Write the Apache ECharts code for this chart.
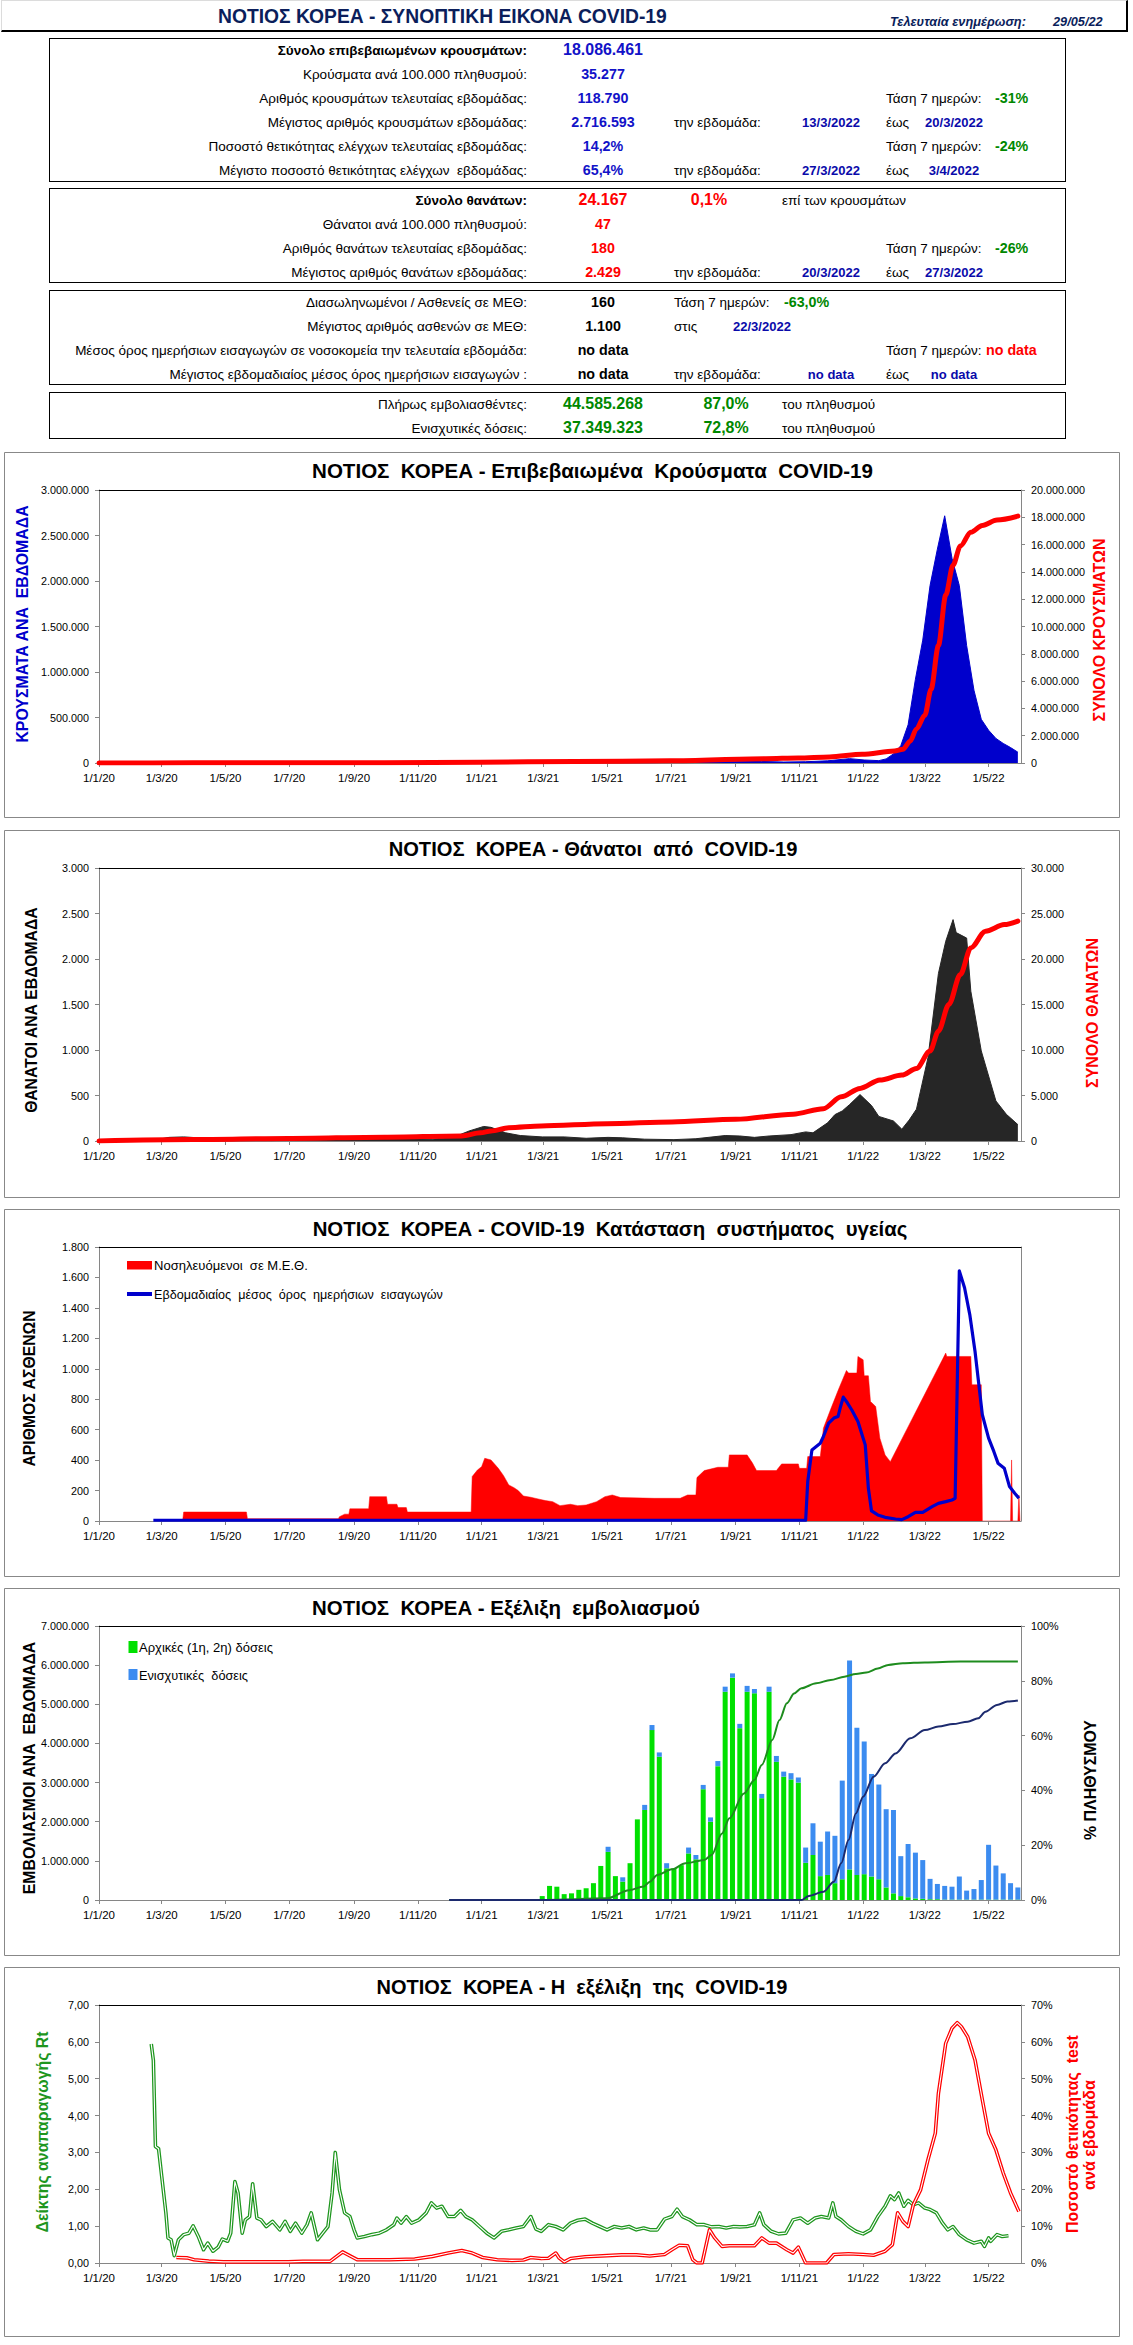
<!DOCTYPE html>
<html><head><meta charset="utf-8">
<script src="https://cdn.jsdelivr.net/npm/echarts@6/dist/echarts.min.js"></script>
<style>
html,body{margin:0;padding:0;background:#fff;}
#page{position:relative;width:1133px;height:2345px;overflow:hidden;background:#fff;}
#chart{position:absolute;left:0;top:0;width:1133px;height:2345px;}
.t{position:absolute;white-space:pre;line-height:1;}
.box{position:absolute;box-sizing:border-box;}
</style></head><body><div id="page"><div id="chart"></div></div>
<script>
// ---------------- DATA ----------------
const xTickLabels = ['1/1/20','1/3/20','1/5/20','1/7/20','1/9/20','1/11/20','1/1/21','1/3/21','1/5/21','1/7/21','1/9/21','1/11/21','1/1/22','1/3/22','1/5/22'];

const hdrTitle = 'ΝΟΤΙΟΣ ΚΟΡΕΑ - ΣΥΝΟΠΤΙΚΗ ΕΙΚΟΝΑ COVID-19';
const hdrUpdateLabel = 'Τελευταία ενημέρωση:';
const hdrUpdateDate = '29/05/22';
const summaryLabels = [
 'Σύνολο επιβεβαιωμένων κρουσμάτων:','Κρούσματα ανά 100.000 πληθυσμού:','Αριθμός κρουσμάτων τελευταίας εβδομάδας:',
 'Μέγιστος αριθμός κρουσμάτων εβδομάδας:','Ποσοστό θετικότητας ελέγχων τελευταίας εβδομάδας:','Μέγιστο ποσοστό θετικότητας ελέγχων  εβδομάδας:',
 'Σύνολο θανάτων:','Θάνατοι ανά 100.000 πληθυσμού:','Αριθμός θανάτων τελευταίας εβδομάδας:','Μέγιστος αριθμός θανάτων εβδομάδας:',
 'Διασωληνωμένοι / Ασθενείς σε ΜΕΘ:','Μέγιστος αριθμός ασθενών σε ΜΕΘ:','Μέσος όρος ημερήσιων εισαγωγών σε νοσοκομεία την τελευταία εβδομάδα:',
 'Μέγιστος εβδομαδιαίος μέσος όρος ημερήσιων εισαγωγών :','Πλήρως εμβολιασθέντες:','Ενισχυτικές δόσεις:'];
const summaryValues = ['18.086.461','35.277','118.790','2.716.593','14,2%','65,4%','24.167','47','180','2.429','160','1.100','no data','no data','44.585.268','37.349.323'];
const trendLabel = 'Τάση 7 ημερών:';
const weekLabel = 'την εβδομάδα:';
const untilLabel = 'έως';
const casesTrend = '-31%', positivityTrend = '-24%', deathsTrend = '-26%', icuTrend = '-63,0%', admissionsTrend = 'no data';
const maxCasesWeek = ['13/3/2022','20/3/2022'];
const maxPositivityWeek = ['27/3/2022','3/4/2022'];
const maxDeathsWeek = ['20/3/2022','27/3/2022'];
const maxIcuDay = ['στις','22/3/2022'];
const maxAdmissionsWeek = ['no data','no data'];
const deathRatio = ['0,1%','επί των κρουσμάτων'];
const vaccinePct = ['87,0%','72,8%'];
const popLabel = 'του πληθυσμού';

const chartTitles = ['ΝΟΤΙΟΣ  ΚΟΡΕΑ - Επιβεβαιωμένα  Κρούσματα  COVID-19','ΝΟΤΙΟΣ  ΚΟΡΕΑ - Θάνατοι  από  COVID-19',
 'ΝΟΤΙΟΣ  ΚΟΡΕΑ - COVID-19  Κατάσταση  συστήματος  υγείας','ΝΟΤΙΟΣ  ΚΟΡΕΑ - Εξέλιξη  εμβολιασμού','ΝΟΤΙΟΣ  ΚΟΡΕΑ - Η  εξέλιξη  της  COVID-19'];

// Chart 1: cases
const casesWeeklyTicks = [0,500000,1000000,1500000,2000000,2500000,3000000];
const casesTotalTicks = [0,2000000,4000000,6000000,8000000,10000000,12000000,14000000,16000000,18000000,20000000];
const casesWeeklyDates = ['2020-01-05','2020-02-16','2020-02-23','2020-03-01','2020-03-08','2020-03-15','2020-03-22','2020-04-05','2020-04-19','2020-05-17','2020-06-14','2020-07-12','2020-08-16','2020-08-30','2020-09-20','2020-10-18','2020-11-15','2020-12-06','2020-12-27',
 '2021-01-17','2021-02-14','2021-03-14','2021-04-18','2021-05-16','2021-06-13','2021-07-18','2021-08-15','2021-09-26','2021-10-17','2021-11-07','2021-11-28','2021-12-19',
 '2022-01-02','2022-01-16','2022-01-23','2022-01-30','2022-02-06','2022-02-13','2022-02-20','2022-02-27','2022-03-06','2022-03-13','2022-03-20','2022-03-27','2022-04-03','2022-04-10','2022-04-17','2022-04-24','2022-05-01','2022-05-08','2022-05-15','2022-05-22','2022-05-29'];
const casesWeeklyValues = [0,20,550,3700,3300,900,700,500,100,150,300,300,700,2200,800,600,1300,4000,7200,
 3500,2800,3000,4600,4500,3700,10800,12600,17000,10500,14000,24000,48000,
 33000,26000,45000,100000,190000,420000,920000,1350000,1950000,2350000,2716593,2250000,1950000,1290000,800000,480000,360000,270000,215000,170000,118790];
const casesTotalDates = ['2020-01-01','2020-03-31','2020-06-30','2020-09-30','2020-12-31','2021-03-31','2021-06-30','2021-09-30','2021-10-31','2021-11-30','2021-12-31','2022-01-31','2022-02-08','2022-02-15','2022-02-21','2022-03-01','2022-03-07','2022-03-14','2022-03-21','2022-03-28','2022-04-04','2022-04-14','2022-04-25','2022-05-09','2022-05-29'];
const casesTotalValues = [0,9800,12900,23800,61000,104000,157000,313000,365000,448000,636000,880000,1000000,1600000,2500000,3500000,5400000,8600000,12300000,14500000,15900000,16900000,17400000,17800000,18086461];

// Chart 2: deaths
const deathsWeeklyTicks = [0,500,1000,1500,2000,2500,3000];
const deathsTotalTicks = [0,5000,10000,15000,20000,25000,30000];
const deathsWeeklyDates = ['2020-01-05','2020-02-23','2020-03-08','2020-03-22','2020-04-12','2020-05-10','2020-06-14','2020-07-19','2020-08-30','2020-09-20','2020-10-18','2020-11-15','2020-12-06','2020-12-20',
 '2021-01-03','2021-01-10','2021-01-24','2021-02-07','2021-02-28','2021-03-21','2021-04-11','2021-05-02','2021-05-16','2021-06-06','2021-07-04','2021-07-25','2021-08-22','2021-09-05','2021-09-19','2021-10-03','2021-10-24','2021-11-07','2021-11-14','2021-11-28','2021-12-05','2021-12-12','2021-12-19','2021-12-29',
 '2022-01-09','2022-01-16','2022-01-30','2022-02-07','2022-02-14','2022-02-21','2022-03-04','2022-03-14','2022-03-21','2022-03-28','2022-03-31','2022-04-10','2022-04-14','2022-04-24','2022-05-08','2022-05-18','2022-05-29'];
const deathsWeeklyValues = [0,10,40,45,30,10,5,8,15,40,25,20,45,110,
 160,150,90,60,45,45,30,40,35,20,15,25,60,55,40,55,70,100,90,200,290,330,400,510,
 390,270,220,130,230,350,915,1840,2195,2433,2290,2230,1646,990,440,293,180];
const deathsTotalDates = ['2020-01-01','2020-03-31','2020-06-30','2020-09-30','2020-12-13','2020-12-31','2021-01-10','2021-01-27','2021-02-27','2021-05-01','2021-07-02','2021-09-01','2021-10-26','2021-11-24','2021-12-11','2021-12-29','2022-01-17','2022-02-07','2022-02-21','2022-03-06','2022-03-14','2022-03-24','2022-04-04','2022-04-14','2022-04-28','2022-05-16','2022-05-29'];
const deathsTotalValues = [0,160,280,420,560,900,1100,1460,1650,1900,2100,2380,2950,3550,4850,5780,6700,7240,7970,9880,12070,15000,18300,21220,23050,23780,24167];

// Chart 3: health system
const icuTicks = [0,200,400,600,800,1000,1200,1400,1600,1800];
const icuName = 'Νοσηλευόμενοι  σε Μ.Ε.Θ.';
const admName = 'Εβδομαδιαίος  μέσος  όρος  ημερήσιων  εισαγωγών';
const icuDates = ['2020-03-21','2020-03-22','2020-05-21','2020-05-22','2020-08-17','2020-08-18','2020-08-23','2020-08-27','2020-08-28','2020-09-15','2020-09-16','2020-10-02','2020-10-03','2020-10-12','2020-10-13','2020-10-21','2020-10-22','2020-12-22','2020-12-23','2020-12-28',
 '2021-01-01','2021-01-04','2021-01-10','2021-01-17','2021-01-22','2021-01-27','2021-02-01','2021-02-05','2021-02-10','2021-02-17','2021-02-24','2021-03-03','2021-03-10','2021-03-17','2021-03-27','2021-04-03','2021-04-11','2021-04-21','2021-04-29','2021-05-06','2021-05-14','2021-06-15','2021-07-10','2021-07-17','2021-07-25','2021-07-26','2021-08-02','2021-08-15','2021-08-25','2021-08-26','2021-09-12','2021-09-17','2021-09-21','2021-10-10','2021-10-15','2021-10-31','2021-11-01','2021-11-08','2021-11-09','2021-11-21','2021-11-24','2021-12-01','2021-12-08','2021-12-16','2021-12-18','2021-12-26','2021-12-27',
 '2022-01-01','2022-01-02','2022-01-06','2022-01-08','2022-01-13','2022-01-17','2022-01-22','2022-01-27','2022-03-21','2022-03-22','2022-04-14','2022-04-15','2022-04-24','2022-04-25','2022-05-22','2022-05-23','2022-05-24','2022-05-29','2022-05-30','2022-05-31'];
const icuValues = [0,59,59,15,15,28,45,45,80,80,160,160,110,110,88,88,59,59,292,335,
 357,412,401,346,298,237,219,200,164,156,145,134,127,101,110,101,105,127,160,171,154,149,149,171,171,285,331,353,353,434,434,382,331,331,375,375,346,346,423,423,610,735,857,989,972,972,1081,
 1059,954,954,785,752,544,434,390,1103,1081,1081,895,895,0,0,401,0,0,171,0];
const admDates = ['2020-02-22','2021-11-07','2021-11-09','2021-11-13','2021-11-21','2021-11-24','2021-11-29','2021-12-04','2021-12-08','2021-12-10','2021-12-13','2021-12-17','2021-12-21','2021-12-27',
 '2022-01-01','2022-01-03','2022-01-06','2022-01-09','2022-01-15','2022-01-22','2022-02-01','2022-02-07','2022-02-13','2022-02-20','2022-02-27','2022-03-08','2022-03-14','2022-03-21','2022-03-27','2022-03-30','2022-04-03','2022-04-08','2022-04-13','2022-04-18','2022-04-25','2022-05-01','2022-05-06','2022-05-10','2022-05-16','2022-05-21','2022-05-26','2022-05-30'];
const admValues = [5,5,259,467,511,555,643,676,687,742,814,775,731,654,
 544,500,215,66,40,24,13,9,28,57,57,94,116,127,138,149,1643,1532,1356,1115,698,544,457,380,347,226,182,149];

// Chart 4: vaccination
const vacTicks = [0,1000000,2000000,3000000,4000000,5000000,6000000,7000000];
const pctTicks = [0,20,40,60,80,100];
const vacInitName = 'Αρχικές (1η, 2η) δόσεις';
const vacBoostName = 'Ενισχυτικές  δόσεις';
const vacWeeks = ['2021-02-28','2021-03-07','2021-03-14','2021-03-21','2021-03-28','2021-04-04','2021-04-11','2021-04-18','2021-04-25','2021-05-02','2021-05-09','2021-05-16','2021-05-23','2021-05-30','2021-06-06','2021-06-13','2021-06-20','2021-06-27','2021-07-04','2021-07-11','2021-07-18','2021-07-25','2021-08-01','2021-08-08','2021-08-15','2021-08-22','2021-08-29','2021-09-05','2021-09-12','2021-09-19','2021-09-26','2021-10-03','2021-10-10','2021-10-17','2021-10-24','2021-10-31','2021-11-07','2021-11-14','2021-11-21','2021-11-28','2021-12-05','2021-12-12','2021-12-19','2021-12-26',
 '2022-01-02','2022-01-09','2022-01-16','2022-01-23','2022-01-30','2022-02-06','2022-02-13','2022-02-20','2022-02-27','2022-03-06','2022-03-13','2022-03-20','2022-03-27','2022-04-03','2022-04-10','2022-04-17','2022-04-24','2022-05-01','2022-05-08','2022-05-15','2022-05-22','2022-05-29'];
const vacInitWeekly = [100000,360000,340000,150000,170000,260000,300000,430000,870000,1230000,610000,470000,940000,2060000,2300000,4340000,3660000,810000,810000,890000,1190000,1040000,2830000,2000000,3420000,5320000,5680000,4390000,5320000,5280000,2600000,5320000,3530000,3150000,3080000,3000000,950000,1150000,610000,640000,430000,530000,780000,640000,
 660000,600000,530000,320000,170000,100000,70000,40000,30000,20000,20000,10000,10000,10000,10000,10000,10000,10000,10000,10000,10000,10000];
const vacBoostWeekly = [0,0,0,0,0,0,0,0,0,130000,0,110000,0,0,130000,130000,110000,130000,0,0,150000,110000,110000,110000,130000,130000,110000,110000,150000,110000,110000,130000,150000,130000,160000,130000,390000,810000,880000,1110000,1210000,2520000,5340000,3760000,
 3390000,2620000,2420000,2000000,2130000,1020000,1360000,1170000,990000,520000,390000,350000,330000,590000,230000,270000,500000,1400000,870000,670000,420000,310000];
const vacInitPctDates = ['2020-12-01','2021-03-01','2021-05-01','2021-05-22','2021-06-05','2021-06-11','2021-06-18','2021-07-02','2021-07-15','2021-08-02','2021-08-09','2021-08-19','2021-08-26','2021-09-09','2021-09-19','2021-09-26','2021-10-06','2021-10-13','2021-10-20','2021-10-27','2021-11-03','2021-11-17','2021-12-01','2021-12-14','2021-12-25','2022-01-04','2022-01-15','2022-01-25','2022-02-08','2022-03-01','2022-04-04','2022-05-29'];
const vacInitPctValues = [0,0,0.6,3.6,4.9,6.7,9.1,11.2,13.4,14.6,16.4,24.3,29.8,38.9,43.8,49.3,58.4,65.7,71.8,75.4,77.3,79.1,80.3,81.5,82.5,83.0,84.5,85.8,86.4,86.7,87.0,87.0];
const vacBoostPctDates = ['2020-12-01','2021-11-03','2021-11-10','2021-11-24','2021-12-04','2021-12-11','2021-12-18','2021-12-25','2022-01-01','2022-01-11','2022-01-22','2022-02-01','2022-02-15','2022-03-01','2022-03-14','2022-03-28','2022-04-11','2022-04-21','2022-04-28','2022-05-09','2022-05-19','2022-05-29'];
const vacBoostPctValues = [0,0,1.5,3,6.7,13.4,21.9,31.6,37.7,45,49.9,53.5,59,62,63.3,64.2,65.1,66.3,68.7,71.2,72.4,72.8];

// Chart 5: Rt & positivity
const rtTicks = [0,1,2,3,4,5,6,7];
const posTicks = [0,10,20,30,40,50,60,70];
const rtDates = ['2020-02-20','2020-02-22','2020-02-24','2020-02-27','2020-03-01','2020-03-05','2020-03-07','2020-03-10','2020-03-13','2020-03-17',
 '2020-03-22','2020-03-27','2020-03-31','2020-04-05','2020-04-10','2020-04-14','2020-04-19','2020-04-24','2020-04-28','2020-05-03',
 '2020-05-06','2020-05-10','2020-05-13','2020-05-17','2020-05-20','2020-05-24','2020-05-27','2020-05-31','2020-06-04','2020-06-09',
 '2020-06-15','2020-06-22','2020-06-27','2020-07-02','2020-07-07','2020-07-13','2020-07-18','2020-07-22','2020-07-28','2020-08-02',
 '2020-08-07','2020-08-11','2020-08-14','2020-08-18','2020-08-23','2020-08-28','2020-09-01','2020-09-04','2020-09-11','2020-09-18',
 '2020-09-25','2020-10-02','2020-10-09','2020-10-12','2020-10-16','2020-10-21','2020-10-26','2020-11-02','2020-11-09','2020-11-14',
 '2020-11-19','2020-11-24','2020-11-30','2020-12-06','2020-12-12','2020-12-17','2020-12-23','2020-12-30','2021-01-06','2021-01-13',
 '2021-01-20','2021-01-27','2021-02-03','2021-02-10','2021-02-17','2021-02-22','2021-02-27','2021-03-06','2021-03-13','2021-03-20',
 '2021-03-27','2021-04-03','2021-04-10','2021-04-17','2021-04-24','2021-05-01','2021-05-08','2021-05-15','2021-05-22','2021-05-29',
 '2021-06-05','2021-06-11','2021-06-18','2021-06-25','2021-07-02','2021-07-07','2021-07-12','2021-07-19','2021-07-26','2021-08-02',
 '2021-08-09','2021-08-16','2021-08-23','2021-08-30','2021-09-05','2021-09-12','2021-09-19','2021-09-24','2021-09-28','2021-10-05',
 '2021-10-12','2021-10-19','2021-10-26','2021-11-02','2021-11-09','2021-11-16','2021-11-22','2021-11-29','2021-12-03','2021-12-06',
 '2021-12-11','2021-12-18','2021-12-25','2022-01-01','2022-01-08','2022-01-15','2022-01-22','2022-01-27','2022-01-31','2022-02-04',
 '2022-02-09','2022-02-13','2022-02-18','2022-02-23','2022-03-01','2022-03-06','2022-03-12','2022-03-18','2022-03-23','2022-03-28',
 '2022-04-03','2022-04-10','2022-04-17','2022-04-24','2022-04-27','2022-05-01','2022-05-03','2022-05-09','2022-05-14','2022-05-20'];
const rtValues = [5.94,5.5,3.16,3.1,2.35,1.36,0.68,0.63,0.2,0.63,
 0.77,0.81,1.01,0.72,0.36,0.54,0.32,0.43,0.65,0.59,
 0.81,2.21,1.9,0.81,1.17,1.26,2.15,1.22,1.17,0.99,
 1.13,0.9,1.13,0.86,1.08,0.81,1.04,1.36,0.63,0.81,
 0.99,1.9,3.0,1.99,1.36,1.26,0.9,0.68,0.72,0.77,
 0.81,0.9,1.04,1.22,1.08,1.26,1.08,1.17,1.36,1.63,
 1.49,1.54,1.26,1.26,1.43,1.26,1.17,0.99,0.81,0.68,
 0.86,0.9,0.95,0.99,1.26,0.92,0.86,1.04,0.99,0.9,
 1.08,1.16,1.19,1.08,0.99,0.9,0.99,0.95,0.99,0.9,
 0.95,0.9,0.9,1.19,1.26,1.46,1.26,1.17,1.04,1.04,
 0.98,0.99,0.95,0.99,0.98,0.99,1.04,1.36,1.04,0.86,
 0.79,0.81,1.17,1.22,1.08,1.22,1.26,1.22,1.63,1.26,
 1.17,0.99,0.86,0.79,0.9,1.26,1.54,1.82,1.72,1.9,
 1.54,1.7,1.58,1.63,1.49,1.45,1.36,1.08,0.9,0.99,
 0.77,0.63,0.54,0.59,0.45,0.68,0.59,0.77,0.72,0.74];
const posDates = ['2020-03-15','2020-03-25','2020-04-01','2020-04-15','2020-04-29','2020-06-30','2020-07-14','2020-08-09','2020-08-21','2020-09-04','2020-10-05','2020-10-29','2020-11-15','2020-11-30','2020-12-13','2020-12-23',
 '2021-01-02','2021-01-16','2021-01-30','2021-02-10','2021-02-17','2021-02-27','2021-03-06','2021-03-13','2021-03-16','2021-03-21','2021-03-27','2021-04-10','2021-05-01','2021-05-15','2021-05-29','2021-06-11','2021-06-25','2021-07-02','2021-07-09','2021-07-17','2021-07-22','2021-07-26','2021-07-31','2021-08-07','2021-08-12','2021-08-19','2021-08-26','2021-09-19','2021-09-26','2021-10-03','2021-10-10','2021-10-20','2021-10-26','2021-10-31','2021-11-07','2021-11-27','2021-12-04','2021-12-18',
 '2022-01-01','2022-01-11','2022-01-22','2022-01-29','2022-02-03','2022-02-08','2022-02-13','2022-02-18','2022-02-25','2022-03-04','2022-03-11','2022-03-14','2022-03-21','2022-03-27','2022-04-01','2022-04-05','2022-04-11','2022-04-18','2022-04-25','2022-05-01','2022-05-08','2022-05-15','2022-05-22','2022-05-30'];
const posValues = [1.5,1.4,0.9,0.5,0.3,0.3,0.45,0.45,3.0,0.9,0.9,1.1,1.8,2.7,3.4,2.7,
 1.5,0.9,0.7,0.8,1.5,1.2,1.3,2.7,1.4,0.3,1.2,1.7,2.0,2.2,2.2,1.9,2.3,3.6,4.8,4.7,0.9,0,0,9.0,6.8,4.5,4.7,4.7,6.8,5.4,5.4,3.6,2.7,4.3,0,0,2.3,2.5,
 2.3,2.1,3.2,5.0,13.6,11.3,9.9,15.8,19.9,28,35.2,46,59.6,63.7,65.2,64.1,61.4,55.1,44.3,35.2,30.7,24.4,19.0,14.0];

const axisNames = {
 c1L:'ΚΡΟΥΣΜΑΤΑ ΑΝΑ  ΕΒΔΟΜΑΔΑ', c1R:'ΣΥΝΟΛΟ ΚΡΟΥΣΜΑΤΩΝ',
 c2L:'ΘΑΝΑΤΟΙ ΑΝΑ ΕΒΔΟΜΑΔΑ', c2R:'ΣΥΝΟΛΟ ΘΑΝΑΤΩΝ',
 c3L:'ΑΡΙΘΜΟΣ ΑΣΘΕΝΩΝ',
 c4L:'ΕΜΒΟΛΙΑΣΜΟΙ ΑΝΑ  ΕΒΔΟΜΑΔΑ', c4R:'% ΠΛΗΘΥΣΜΟΥ',
 c5L:'Δείκτης αναπαραγωγής Rt', c5R1:'Ποσοστό θετικότητας  test', c5R2:'ανά εβδομάδα'
};

// ---------------- HELPERS ----------------
function hasFont(name){const c=document.createElement('canvas').getContext('2d');const s='abcdefghijMNOPQ0123456';c.font='40px monospace';const a=c.measureText(s).width;c.font="40px '"+name+"', monospace";const b=c.measureText(s).width;return Math.abs(a-b)>0.5;}
const NARROW_OK = hasFont('Liberation Sans Narrow');
const FONT_REG = "'Liberation Sans', Arial, Helvetica, sans-serif";
const FONT_N = NARROW_OK ? "'Liberation Sans Narrow', 'Arial Narrow', sans-serif" : FONT_REG;
const NS = NARROW_OK ? 1 : 0.84;
const X_FS = NARROW_OK ? 13 : 11.5, Y_FS = NARROW_OK ? 12 : 10.8;
const mctx = document.createElement('canvas').getContext('2d');
function fit(text, weight, fam, target){mctx.font=weight+' 100px '+fam;const w=mctx.measureText(text).width;return +(100*target/w).toFixed(2);}
function ts(s){const p=s.split('-');return new Date(+p[0],+p[1]-1,+p[2]).getTime();}
function tickTs(s){const p=s.split('/');return new Date(2000+(+p[2]),+p[1]-1,+p[0]).getTime();}
function zip(d,v){return d.map((s,i)=>[ts(s),v[i]]);}
function thou(v){return String(Math.round(v)).replace(/\B(?=(\d{3})+(?!\d))/g,'.');}
function fmtDate(v){const d=new Date(v);return d.getDate()+'/'+(d.getMonth()+1)+'/'+String(d.getFullYear()).slice(2);}
const T0 = new Date(2020,0,1).getTime(), T1 = new Date(2022,5,1).getTime();
const DAY = 86400000;
const xTickVals = xTickLabels.map(tickTs);
// daily category list spanning the same range (used only so the library can stack the weekly bars)
const NDAYS = Math.round((T1-T0)/DAY);
const dayCats = []; for(let i=0;i<=NDAYS;i++) dayCats.push(String(i));
function onDays(dates, vals){const arr=new Array(NDAYS+1).fill('-');dates.forEach((s,i)=>{arr[Math.round((ts(s)-T0)/DAY)]=vals[i];});return arr;}

// ---------------- HEADER (HTML) ----------------
const page = document.getElementById('page');
function put(text,x,y,align,o){const d=document.createElement('div');d.className='t';d.textContent=text;d.style.left=x+'px';d.style.top=y+'px';
 const tx=align==='right'?'-100%':(align==='center'?'-50%':'0');d.style.transform='translate('+tx+',-50%)';
 d.style.font=(o.it?'italic ':'')+(o.b?'bold ':'')+o.s+'px '+(o.f||FONT_REG);d.style.color=o.c||'#000';d.style.zIndex=5;page.appendChild(d);}
function box(x,y,w,h,css){const d=document.createElement('div');d.className='box';d.style.left=x+'px';d.style.top=y+'px';d.style.width=w+'px';d.style.height=h+'px';d.style.cssText+=css;d.style.zIndex=4;page.appendChild(d);}
box(1,0,1127,32,'border-top:1px solid #dcdcdc;border-left:1px solid #dcdcdc;border-right:2px solid #000;border-bottom:2px solid #000;');
put(hdrTitle,218,17,'left',{b:true,s:fit(hdrTitle,'bold',FONT_N,449),f:FONT_N,c:'#0B1E5B'});
put(hdrUpdateLabel,890,21,'left',{b:true,it:true,s:14*NS+1,f:FONT_N,c:'#0B1E5B'});
put(hdrUpdateDate,1053,21,'left',{b:true,it:true,s:14*NS+1,f:FONT_N,c:'#0B1E5B'});
box(49,38,1017,144,'border:1.5px solid #000;');
box(49,188,1017,95,'border:1.5px solid #000;');
box(49,290,1017,95,'border:1.5px solid #000;');
box(49,392,1017,47,'border:1.5px solid #000;');
const rowY=[50,74,98,122,146,170,200,224,248,272,302,326,350,374,404,428];
const BLUE='#1212C8', DBLUE='#0A0AAA', RED='#FF0000', GREEN='#008800';
summaryLabels.forEach((l,i)=>{put(l,527,rowY[i],'right',{b:(i===0||i===6),s:13.5});
 let c=BLUE,s=17; if(i===0)s=19; if(i>=6&&i<=9){c=RED;if(i===6)s=19;} if(i>=10&&i<=13)c='#000'; if(i>=14){c=GREEN;s=19;}
 put(summaryValues[i],603,rowY[i],'center',{b:true,s:s*NS,f:FONT_N,c:c});});
function trend(y,v,c){put(trendLabel,886,y,'left',{s:13.5});put(v,995,y,'left',{b:true,s:17*NS,f:FONT_N,c:c});}
function week(y,d,c,sz){put(weekLabel,674,y,'left',{s:13.5});put(d[0],831,y,'center',{b:true,s:sz*NS,f:FONT_N,c:c});put(untilLabel,886,y,'left',{s:13.5});put(d[1],954,y,'center',{b:true,s:sz*NS,f:FONT_N,c:c});}
trend(rowY[2],casesTrend,GREEN); week(rowY[3],maxCasesWeek,DBLUE,15.5);
trend(rowY[4],positivityTrend,GREEN); week(rowY[5],maxPositivityWeek,DBLUE,15.5);
put(deathRatio[0],709,rowY[6],'center',{b:true,s:19*NS,f:FONT_N,c:RED}); put(deathRatio[1],782,rowY[6],'left',{s:13.5});
trend(rowY[8],deathsTrend,GREEN); week(rowY[9],maxDeathsWeek,DBLUE,15.5);
put(trendLabel,674,rowY[10],'left',{s:13.5}); put(icuTrend,784,rowY[10],'left',{b:true,s:17*NS,f:FONT_N,c:GREEN});
put(maxIcuDay[0],674,rowY[11],'left',{s:13.5}); put(maxIcuDay[1],733,rowY[11],'left',{b:true,s:15.5*NS,f:FONT_N,c:DBLUE});
put(trendLabel,886,rowY[12],'left',{s:13.5}); put(admissionsTrend,986,rowY[12],'left',{b:true,s:17*NS,f:FONT_N,c:RED});
week(rowY[13],maxAdmissionsWeek,DBLUE,15.5);
put(vaccinePct[0],726,rowY[14],'center',{b:true,s:19*NS,f:FONT_N,c:GREEN}); put(popLabel,782,rowY[14],'left',{s:13.5});
put(vaccinePct[1],726,rowY[15],'center',{b:true,s:19*NS,f:FONT_N,c:GREEN}); put(popLabel,782,rowY[15],'left',{s:13.5});

// ---------------- CHARTS ----------------
const grids=[{top:490,h:273},{top:868,h:273},{top:1247,h:274},{top:1626,h:274},{top:2005,h:258}];
const AX='#868686';
function xBottom(gi){return {type:'value',gridIndex:gi,min:T0,max:T1,position:'bottom',scale:false,
 axisLine:{show:true,onZero:false,lineStyle:{color:AX,width:1}},
 axisTick:{show:true,customValues:xTickVals,length:4,inside:false,lineStyle:{color:AX}},
 axisLabel:{show:true,customValues:xTickVals,formatter:(v)=>fmtDate(v),color:'#000',fontFamily:FONT_N,fontSize:X_FS,margin:9,hideOverlap:false},
 splitLine:{show:false}};}
function xTop(gi){return {type:'value',gridIndex:gi,position:'top',min:0,max:1,axisLine:{show:true,onZero:false,lineStyle:{color:'#000',width:1}},axisTick:{show:false},axisLabel:{show:false},splitLine:{show:false}};}
function yAx(gi,pos,ticks,fmt){return {type:'value',gridIndex:gi,position:pos,min:ticks[0],max:ticks[ticks.length-1],interval:ticks[1]-ticks[0],
 axisLine:{show:true,onZero:false,lineStyle:{color:AX}},axisTick:{show:true,inside:false,length:4,lineStyle:{color:AX}},
 axisLabel:{show:true,formatter:fmt,color:'#000',fontFamily:FONT_N,fontSize:Y_FS,margin:10},splitLine:{show:false}};}
function yBlank(gi,pos){return {type:'value',gridIndex:gi,position:pos,min:0,max:1,axisLine:{show:true,onZero:false,lineStyle:{color:AX}},axisTick:{show:false},axisLabel:{show:false},splitLine:{show:false}};}

const xAxes=[],yAxes=[];
grids.forEach((g,i)=>{xAxes.push(xBottom(i));xAxes.push(xTop(i));});
// index 10: hidden daily category axis in grid 3 (same span as the date axis) for the stacked weekly bars
xAxes.push({type:'category',gridIndex:3,data:dayCats,boundaryGap:false,show:false,position:'bottom'});
const pct=(v)=>v+'%';
yAxes.push(yAx(0,'left',casesWeeklyTicks,thou),yAx(0,'right',casesTotalTicks,thou));
yAxes.push(yAx(1,'left',deathsWeeklyTicks,thou),yAx(1,'right',deathsTotalTicks,thou));
yAxes.push(yAx(2,'left',icuTicks,thou),yBlank(2,'right'));
yAxes.push(yAx(3,'left',vacTicks,thou),yAx(3,'right',pctTicks,pct));
yAxes.push(yAx(4,'left',rtTicks,(v)=>v.toFixed(2).replace('.',',')),yAx(4,'right',posTicks,pct));

const ln=(o)=>Object.assign({type:'line',symbol:'none',showSymbol:false,silent:true},o);
const series=[
 ln({name:'cw',xAxisIndex:0,yAxisIndex:0,data:zip(casesWeeklyDates,casesWeeklyValues),lineStyle:{width:1,color:'#0000CC'},areaStyle:{color:'#0000CC',opacity:1},z:2}),
 ln({name:'ct',xAxisIndex:0,yAxisIndex:1,data:zip(casesTotalDates,casesTotalValues),smooth:0.3,smoothMonotone:'x',lineStyle:{width:5,color:'#FF0000',cap:'round',join:'round'},z:3}),
 ln({name:'dw',xAxisIndex:2,yAxisIndex:2,data:zip(deathsWeeklyDates,deathsWeeklyValues),lineStyle:{width:1,color:'#262626'},areaStyle:{color:'#262626',opacity:1},z:2}),
 ln({name:'dt',xAxisIndex:2,yAxisIndex:3,data:zip(deathsTotalDates,deathsTotalValues),smooth:0.3,smoothMonotone:'x',lineStyle:{width:5,color:'#FF0000',cap:'round',join:'round'},z:3}),
 ln({name:icuName,xAxisIndex:4,yAxisIndex:4,data:zip(icuDates,icuValues),lineStyle:{width:0.5,color:'#FF0000'},areaStyle:{color:'#FF0000',opacity:1},z:2}),
 ln({name:admName,xAxisIndex:4,yAxisIndex:4,data:zip(admDates,admValues),lineStyle:{width:3.2,color:'#0000CC',join:'round'},z:3}),
 {type:'bar',name:vacInitName,xAxisIndex:10,yAxisIndex:6,stack:'vac',barWidth:5,data:onDays(vacWeeks,vacInitWeekly),itemStyle:{color:'#00E000'},silent:true,z:2},
 {type:'bar',name:vacBoostName,xAxisIndex:10,yAxisIndex:6,stack:'vac',barWidth:5,data:onDays(vacWeeks,vacBoostWeekly),itemStyle:{color:'#3C8CF0'},silent:true,z:2},
 ln({name:'vi',xAxisIndex:6,yAxisIndex:7,data:zip(vacInitPctDates,vacInitPctValues),smooth:0.3,smoothMonotone:'x',lineStyle:{width:2,color:'#1E8C1E'},z:4}),
 ln({name:'vb',xAxisIndex:6,yAxisIndex:7,data:zip(vacBoostPctDates,vacBoostPctValues),smooth:0.3,smoothMonotone:'x',lineStyle:{width:2,color:'#1C2A6E'},z:4}),
 ln({name:'rt',xAxisIndex:8,yAxisIndex:8,data:zip(rtDates,rtValues),lineStyle:{width:3.6,color:'#1E961E',join:'round'},z:3}),
 ln({name:'rt2',xAxisIndex:8,yAxisIndex:8,data:zip(rtDates,rtValues),lineStyle:{width:1.1,color:'#FFFFFF',join:'round'},z:3}),
 ln({name:'pos',xAxisIndex:8,yAxisIndex:9,data:zip(posDates,posValues),lineStyle:{width:3.6,color:'#FF0000',join:'round'},z:4}),
 ln({name:'pos2',xAxisIndex:8,yAxisIndex:9,data:zip(posDates,posValues),lineStyle:{width:1.1,color:'#FFFFFF',join:'round'},z:4})
];

// graphics: panels, titles, axis titles, legends
const G=[];
const panels=[[452,365],[830,367],[1209,367],[1588,367],[1967,369]];
panels.forEach(p=>G.push({type:'rect',silent:true,z:0,shape:{x:4.5,y:p[0]+0.5,width:1115,height:p[1]},style:{fill:'none',stroke:'#888888',lineWidth:1}}));
function txt(text,x,y,font,fill,align,rot){return {type:'text',silent:true,z:10,x:x,y:y,rotation:rot||0,
 style:{text:text,font:font,fill:fill,textAlign:align||'center',textVerticalAlign:'middle',align:align||'center',verticalAlign:'middle'}};}
const titlePos=[[592.5,470,561],[593,849,409],[610,1228.5,595],[506,1607,388],[582,1987,411]];
chartTitles.forEach((t,i)=>{const p=titlePos[i];G.push(txt(t,p[0],p[1],'bold '+fit(t,'bold',FONT_N,p[2])+'px '+FONT_N,'#000'));});
function vlab(t,x,y,len,color){G.push(txt(t,x,y,'bold '+fit(t,'bold',FONT_REG,len)+'px '+FONT_REG,color,'center',Math.PI/2));}
vlab(axisNames.c1L,22,624,238,'#0000CC'); vlab(axisNames.c1R,1099,630,183,'#FF0000');
vlab(axisNames.c2L,31.5,1010,206,'#000'); vlab(axisNames.c2R,1092,1013,150,'#FF0000');
vlab(axisNames.c3L,29.5,1388.5,157,'#000');
vlab(axisNames.c4L,29.5,1768,253,'#000'); vlab(axisNames.c4R,1090,1780,120,'#000');
vlab(axisNames.c5L,42,2132,201,'#1E961E'); vlab(axisNames.c5R1,1072,2134,198,'#FF0000'); vlab(axisNames.c5R2,1089,2135,110,'#FF0000');
// legends chart 3
G.push({type:'rect',silent:true,z:10,shape:{x:127,y:1261,width:25,height:8.5},style:{fill:'#FF0000'}});
G.push(txt(icuName,154,1265.5,fit(icuName,'normal',FONT_N,154)+'px '+FONT_N,'#000','left'));
G.push({type:'line',silent:true,z:10,shape:{x1:127,y1:1294,x2:152,y2:1294},style:{stroke:'#0000CC',lineWidth:4}});
G.push(txt(admName,154,1294.5,fit(admName,'normal',FONT_N,289)+'px '+FONT_N,'#000','left'));
// legends chart 4
G.push({type:'rect',silent:true,z:10,shape:{x:128.5,y:1641,width:9,height:12},style:{fill:'#00E000'}});
G.push(txt(vacInitName,139,1647,fit(vacInitName,'normal',FONT_N,134)+'px '+FONT_N,'#000','left'));
G.push({type:'rect',silent:true,z:10,shape:{x:128.5,y:1669,width:9,height:11},style:{fill:'#3C8CF0'}});
G.push(txt(vacBoostName,139,1675,fit(vacBoostName,'normal',FONT_N,109)+'px '+FONT_N,'#000','left'));

const chart=echarts.init(document.getElementById('chart'),null,{renderer:'svg',width:1133,height:2345});
chart.setOption({
 animation:false,backgroundColor:'transparent',
 textStyle:{fontFamily:FONT_N},
 grid:grids.map(g=>({left:99,top:g.top,width:922,height:g.h,containLabel:false,show:false})),
 xAxis:xAxes,yAxis:yAxes,series:series,graphic:{elements:G}
});
</script></body></html>
